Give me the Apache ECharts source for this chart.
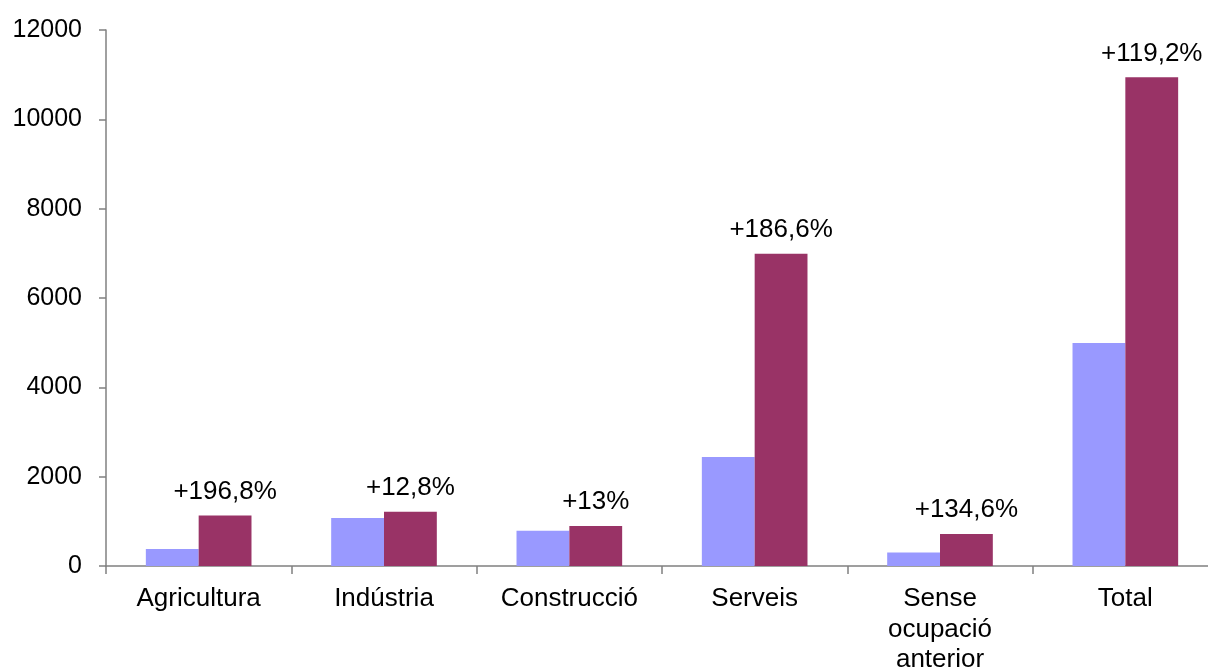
<!DOCTYPE html>
<html>
<head>
<meta charset="utf-8">
<script src="https://cdn.jsdelivr.net/npm/echarts@6/dist/echarts.min.js"></script>
<style>
html,body{margin:0;padding:0;background:#fff;overflow:hidden;}
#chart{width:1208px;height:669px;}
</style>
</head>
<body>
<div id="chart"></div>
<script>
var categories = ['Agricultura', 'Indústria', 'Construcció', 'Serveis', 'Sense\nocupació\nanterior', 'Total'];
var seriesA = [380, 1075, 790, 2440, 305, 4990];
var seriesB = [1128, 1213, 893, 6993, 716, 10940];
var changeLabels = ['+196,8%', '+12,8%', '+13%', '+186,6%', '+134,6%', '+119,2%'];
var yTicks = [0, 2000, 4000, 6000, 8000, 10000, 12000];

var chart = echarts.init(document.getElementById('chart'));
var font = 'Liberation Sans, Arial, sans-serif';
chart.setOption({
  animation: false,
  grid: { left: 106, width: 1112, top: 30, height: 536, containLabel: false, outerBoundsMode: 'none' },
  xAxis: {
    type: 'category',
    data: categories,
    axisLine: { lineStyle: { color: '#808080', width: 1.5 } },
    axisTick: { show: true, length: 8, lineStyle: { color: '#808080', width: 1.5 } },
    axisLabel: { color: '#000', fontFamily: font, fontSize: 26, lineHeight: 30.5, margin: 18 }
  },
  yAxis: {
    type: 'value',
    min: yTicks[0],
    max: yTicks[yTicks.length - 1],
    interval: 2000,
    splitLine: { show: false },
    axisLine: { show: true, lineStyle: { color: '#808080', width: 1.5 } },
    axisTick: { show: true, length: 7, lineStyle: { color: '#808080', width: 1.5 } },
    axisLabel: { color: '#000', fontFamily: font, fontSize: 25, margin: 24,
      formatter: function (v) { return String(v); } }
  },
  series: [
    {
      type: 'bar',
      data: seriesA,
      barGap: '0%',
      barCategoryGap: '43%',
      itemStyle: { color: '#9999FF' }
    },
    {
      type: 'bar',
      data: seriesB,
      barGap: '0%',
      barCategoryGap: '43%',
      itemStyle: { color: '#993366' },
      label: {
        show: true,
        position: 'top',
        distance: 11,
        color: '#000',
        fontFamily: font,
        fontSize: 26,
        formatter: function (p) { return changeLabels[p.dataIndex]; }
      }
    }
  ]
});
</script>
</body>
</html>
